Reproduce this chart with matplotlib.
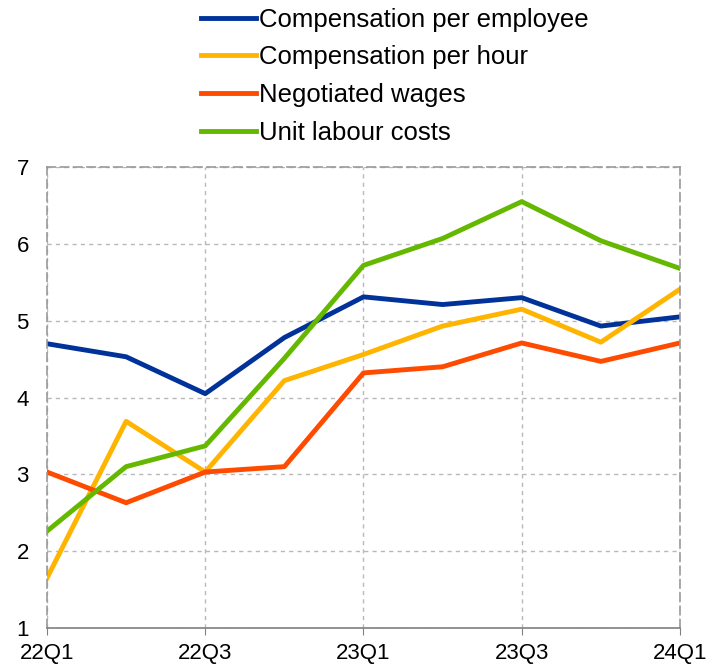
import numpy as np
import matplotlib.pyplot as plt

plt.rcParams['font.family'] = ['Liberation Sans', 'DejaVu Sans']

# Quarters 22Q1 .. 24Q1
quarters = ["22Q1", "22Q2", "22Q3", "22Q4", "23Q1", "23Q2", "23Q3", "23Q4", "24Q1"]
tick_labels = ["22Q1", "22Q3", "23Q1", "23Q3", "24Q1"]

comp_employee = [4.70, 4.53, 4.05, 4.78, 5.31, 5.21, 5.30, 4.93, 5.05]
comp_hour = [1.65, 3.69, 3.03, 4.22, 4.56, 4.93, 5.15, 4.72, 5.41]
negotiated = [3.03, 2.63, 3.03, 3.10, 4.32, 4.40, 4.71, 4.47, 4.71]
ulc = [2.26, 3.10, 3.37, 4.51, 5.72, 6.07, 6.55, 6.04, 5.68]

series = [
    ("Compensation per employee", comp_employee, "#003299"),
    ("Compensation per hour", comp_hour, "#FFB400"),
    ("Negotiated wages", negotiated, "#FF4B00"),
    ("Unit labour costs", ulc, "#65B800"),
]

fig = plt.figure(figsize=(7.13, 6.66), dpi=100)
ax = fig.add_axes([0.0659, 0.0571, 0.8878, 0.6921])

x = np.arange(len(quarters))
for name, vals, col in series:
    ax.plot(x, vals, color=col, linewidth=3.5, label=name)

# axes limits and ticks
ax.set_xlim(0, len(quarters) - 1)
ax.set_ylim(1, 7)
ax.set_xticks([quarters.index(t) for t in tick_labels])
ax.set_xticklabels(tick_labels)
ax.set_yticks(range(1, 8))
ax.tick_params(axis='x', labelsize=16, length=5, color='#808080', pad=6)
ax.tick_params(axis='y', labelsize=16, length=0, pad=22)
for lab in ax.get_yticklabels():
    lab.set_horizontalalignment('left')

# grid
ax.grid(True, color='#b8b8b8', linestyle=(0, (3, 3)), linewidth=1)
ax.set_axisbelow(True)

# dashed frame
for side in ['top', 'left', 'right']:
    ax.spines[side].set_color('#999999')
    ax.spines[side].set_linestyle((0, (5, 3)))
    ax.spines[side].set_linewidth(1.2)
ax.spines['bottom'].set_color('#808080')
ax.spines['bottom'].set_linewidth(1.2)

fig.legend(loc='upper left', bbox_to_anchor=(0.268, 1.004), frameon=False,
           fontsize=18.5, handlelength=2.14, handletextpad=0.12, labelspacing=0.54,
           borderaxespad=0)

plt.savefig("out.png", dpi=100)
